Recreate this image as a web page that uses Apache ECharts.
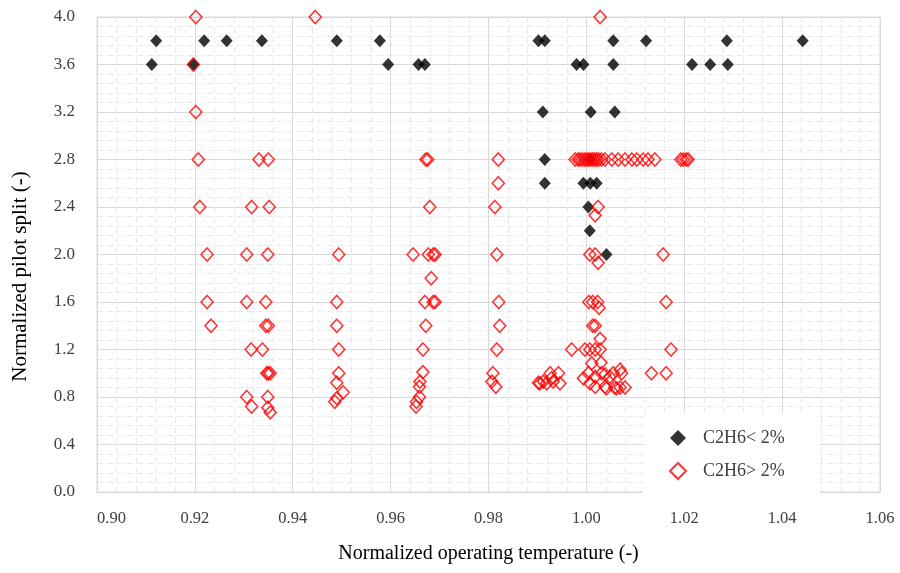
<!DOCTYPE html>
<html>
<head>
<meta charset="utf-8">
<script src="https://cdn.jsdelivr.net/npm/echarts@6/dist/echarts.min.js"></script>
<style>html,body{margin:0;padding:0;background:#fff}#c{width:900px;height:573px}</style>
</head>
<body>
<div id="c"></div>
<script>
var seriesNames = ['C2H6< 2%', 'C2H6> 2%'];
var xTicks = [0.90, 0.92, 0.94, 0.96, 0.98, 1.00, 1.02, 1.04, 1.06];
var yTicks = [0.0, 0.4, 0.8, 1.2, 1.6, 2.0, 2.4, 2.8, 3.2, 3.6, 4.0];

var lowC2H6 = [
  [0.9121,3.8],[0.9112,3.6],[0.9197,3.6],[0.9219,3.8],[0.9265,3.8],[0.9337,3.8],[0.9490,3.8],
  [0.9578,3.8],[0.9595,3.6],[0.9657,3.6],[0.9670,3.6],[0.9902,3.8],[0.9915,3.8],[0.9980,3.6],
  [0.9994,3.6],[1.0055,3.8],[1.0055,3.6],[1.0122,3.8],[0.9911,3.2],[1.0009,3.2],[1.0058,3.2],
  [0.9915,2.8],[1.0007,2.8],[0.9915,2.6],[0.9994,2.6],[1.0008,2.6],[1.0021,2.6],[1.0004,2.4],
  [1.0007,2.2],[1.0041,2.0],[1.0287,3.8],[1.0442,3.8],[1.0216,3.6],[1.0253,3.6],[1.0289,3.6]
];

var highC2H6 = [
  [0.9202,4.0],[0.9446,4.0],[1.0028,4.0],[0.9197,3.6],[0.9202,3.2],
  [0.9207,2.8],[0.9331,2.8],[0.9350,2.8],[0.9672,2.8],[0.9676,2.8],[0.9820,2.8],
  [0.9977,2.8],[0.9983,2.8],[0.9987,2.8],[0.9992,2.8],[0.9997,2.8],[1.0001,2.8],[1.0005,2.8],
  [1.0009,2.8],[1.0013,2.8],[1.0017,2.8],[1.0021,2.8],[1.0025,2.8],[1.0031,2.8],[1.0038,2.8],
  [1.0052,2.8],[1.0065,2.8],[1.0079,2.8],[1.0093,2.8],[1.0103,2.8],[1.0116,2.8],[1.0126,2.8],
  [1.0140,2.8],[1.0193,2.8],[1.0198,2.8],[1.0204,2.8],[1.0208,2.8],
  [0.9820,2.6],
  [0.9210,2.4],[0.9316,2.4],[0.9352,2.4],[0.9680,2.4],[0.9813,2.4],[1.0024,2.4],[1.0018,2.33],
  [0.9225,2.0],[0.9306,2.0],[0.9349,2.0],[0.9494,2.0],[0.9646,2.0],[0.9677,2.0],[0.9687,2.0],
  [0.9691,2.0],[0.9817,2.0],[1.0007,2.0],[1.0018,2.0],[1.0157,2.0],[1.0024,1.93],
  [0.9683,1.8],
  [0.9225,1.6],[0.9306,1.6],[0.9345,1.6],[0.9490,1.6],[0.9670,1.6],[0.9687,1.6],[0.9691,1.6],
  [0.9821,1.6],[1.0005,1.6],[1.0013,1.6],[1.0023,1.6],[1.0163,1.6],[1.0026,1.55],
  [0.9233,1.4],[0.9345,1.4],[0.9350,1.4],[0.9490,1.4],[0.9672,1.4],[0.9823,1.4],[1.0013,1.4],
  [1.0018,1.4],[1.0028,1.29],
  [0.9315,1.2],[0.9338,1.2],[0.9494,1.2],[0.9666,1.2],[0.9817,1.2],[0.9970,1.2],[0.9997,1.2],
  [1.0007,1.2],[1.0018,1.2],[1.0028,1.2],[1.0173,1.2],
  [0.9347,1.0],[0.9350,1.0],[0.9354,1.0],[0.9494,1.0],[0.9490,0.92],[0.9503,0.84],[0.9490,0.79],
  [0.9486,0.76],[0.9306,0.80],[0.9316,0.72],[0.9349,0.80],[0.9349,0.71],[0.9354,0.67],
  [0.9666,1.01],[0.9660,0.93],[0.9659,0.886],[0.9659,0.80],[0.9653,0.76],[0.9652,0.72],
  [0.9809,1.0],[0.9807,0.93],[0.9815,0.886],
  [0.9902,0.92],[0.9905,0.915],[0.9912,0.93],[0.9919,0.915],[0.9926,1.0],[0.9929,0.96],
  [0.9932,0.93],[0.9943,1.0],[0.9946,0.915],
  [0.9994,0.957],[1.0011,1.083],[1.0030,1.09],[1.0004,1.0],[1.0018,0.97],[1.0031,1.0],
  [1.0038,0.99],[1.0018,0.886],[1.0038,0.886],[1.0055,1.0],[1.0069,1.03],[1.0072,1.0],
  [1.0058,0.88],[1.0069,0.88],[1.0079,0.88],[1.0007,0.915],[1.0041,0.873],[1.0048,0.97],
  [1.0062,0.873],[1.0133,1.0],[1.0163,1.0]
];

var FONT = '"Liberation Serif", "Times New Roman", serif';
var chart = echarts.init(document.getElementById('c'), null, {renderer: 'canvas'});
chart.setOption({
  animation: false,
  backgroundColor: '#ffffff',
  textStyle: {fontFamily: FONT},
  grid: {left: 97, right: 20, top: 17, bottom: 81, show: true, borderColor: '#d9d9d9', borderWidth: 1},
  xAxis: {
    type: 'value', min: xTicks[0], max: xTicks[xTicks.length - 1], interval: 0.02,
    name: 'Normalized operating temperature (-)', nameLocation: 'middle', nameGap: 52,
    nameTextStyle: {fontFamily: FONT, fontSize: 20, color: '#000'},
    axisLine: {show: true, lineStyle: {color: '#d9d9d9'}},
    axisTick: {show: false},
    axisLabel: {fontFamily: FONT, fontSize: 16.5, color: '#404040', margin: 18, alignMinLabel: 'left',
      formatter: function (v) { return v.toFixed(2); }},
    splitLine: {show: true, lineStyle: {color: '#d9d9d9', width: 1}},
    minorTick: {show: false, splitNumber: 5},
    minorSplitLine: {show: true, lineStyle: {color: '#e9e9e9', width: 1, type: [6, 4]}}
  },
  yAxis: {
    type: 'value', min: yTicks[0], max: yTicks[yTicks.length - 1], interval: 0.4,
    name: 'Normalized pilot split (-)', nameLocation: 'middle', nameGap: 66, nameRotate: 90,
    nameTextStyle: {fontFamily: FONT, fontSize: 21, color: '#000', padding: [0, 44, 0, 0]},
    axisLine: {show: true, lineStyle: {color: '#d9d9d9'}},
    axisTick: {show: false},
    axisLabel: {fontFamily: FONT, fontSize: 17, color: '#404040', margin: 22,
      formatter: function (v) { return v.toFixed(1); }},
    splitLine: {show: true, lineStyle: {color: '#d9d9d9', width: 1}},
    minorTick: {show: false, splitNumber: 5},
    minorSplitLine: {show: true, lineStyle: {color: '#e9e9e9', width: 1, type: [6, 4]}}
  },
  legend: {
    orient: 'vertical', left: 643, top: 413,
    backgroundColor: '#ffffff',
    padding: [16, 35, 16, 26],
    itemWidth: 16, itemHeight: 16, itemGap: 15,
    textStyle: {fontFamily: FONT, fontSize: 18, color: '#404040', padding: [0, 0, 0, 12]},
    data: [
      {name: seriesNames[0], icon: 'diamond'},
      {name: seriesNames[1], icon: 'diamond'}
    ]
  },
  series: [
    {
      name: seriesNames[0], type: 'scatter', data: lowC2H6,
      symbol: 'diamond', symbolSize: [12, 13],
      itemStyle: {color: '#000000'}
    },
    {
      name: seriesNames[1], type: 'scatter', data: highC2H6,
      symbol: 'diamond', symbolSize: [12, 13],
      itemStyle: {color: 'rgba(255,255,255,0)', borderColor: '#ff0000', borderWidth: 1.6}
    }
  ]
});
</script>
</body>
</html>
